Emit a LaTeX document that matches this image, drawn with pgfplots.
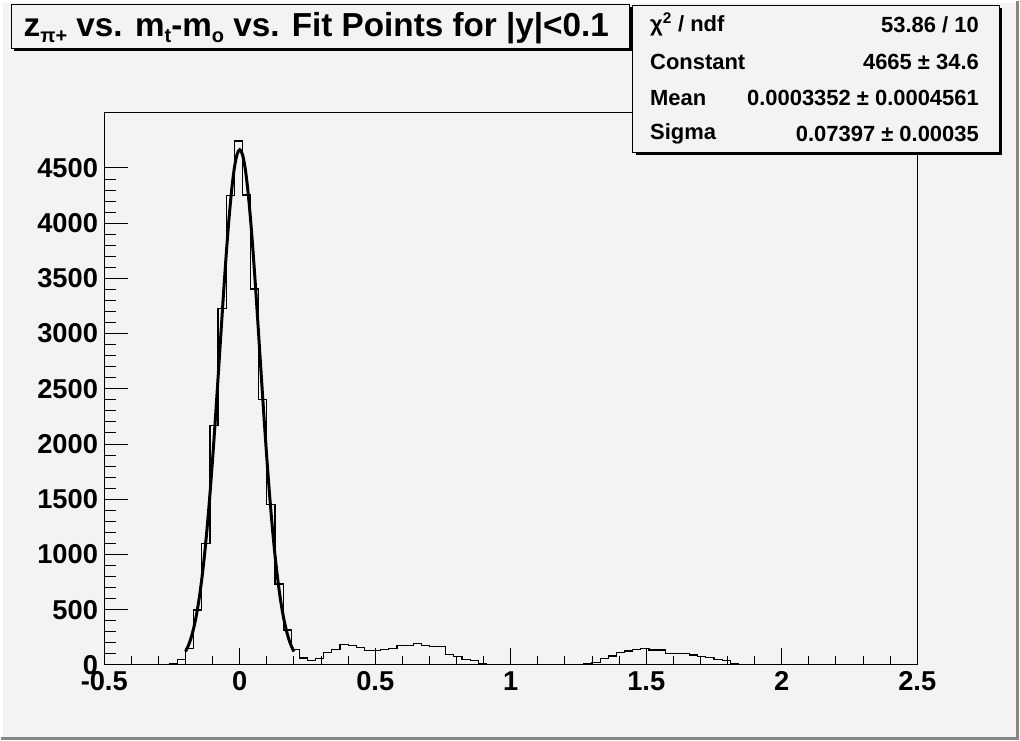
\documentclass[border=0pt]{standalone}
\usepackage{fontspec}
\setmainfont{Liberation Sans}
\usepackage{pgfplots}
\pgfplotsset{compat=1.18}
\definecolor{canvas}{RGB}{243,243,243}
\definecolor{bordr}{RGB}{135,135,135}
\begin{document}
\begin{tikzpicture}[x=0.75pt,y=0.75pt]
\fill[canvas] (0,0) rectangle (1020,740);
\draw[white, line width=1.5pt] (1,0) -- (1,739) -- (1020,739);
\draw[bordr, line width=2.25pt] (0,1.5) -- (1018.5,1.5) -- (1018.5,740);
\begin{axis}[
  at={(77.25pt,56.25pt)}, anchor=south west,
  scale only axis, width=611.25pt, height=415.5pt,
  xmin=-0.5, xmax=2.5, ymin=0, ymax=5005,
  axis background/.style={fill=canvas},
  axis line style={black, line width=0.75pt},
  xtick={-0.5,0,0.5,1,1.5,2,2.5},
  xticklabels={-0.5,0,0.5,1,1.5,2,2.5},
  ytick={0,500,1000,1500,2000,2500,3000,3500,4000,4500},
  yticklabels={0,500,1000,1500,2000,2500,3000,3500,4000,4500},
  minor x tick num=4, minor y tick num=4,
  tick align=inside, xtick pos=bottom, ytick pos=left,
  tick style={black, line width=0.75pt},
  xtick style={/pgfplots/major tick length=12.75pt, /pgfplots/minor tick length=6.75pt},
  ytick style={/pgfplots/major tick length=18pt, /pgfplots/minor tick length=9pt},
  ticklabel style={font=\fontsize{20.5}{22}\selectfont\bfseries, text=black},
  yticklabel style={anchor=east, inner sep=0pt, xshift=-4.5pt},
  xticklabel style={anchor=north, inner sep=0pt, yshift=-5pt},
  clip=false,
]
\addplot[black, line width=0.9pt, const plot mark left] coordinates {
(-0.5,0) (-0.29,2) (-0.26,8) (-0.23,45) (-0.20,151) (-0.17,497) (-0.14,1100)
(-0.11,2169) (-0.08,3229) (-0.05,4253) (-0.02,4745) (0.01,4256) (0.04,3404)
(0.07,2403) (0.10,1455) (0.13,732) (0.16,316) (0.19,140) (0.22,62) (0.25,40)
(0.28,60) (0.31,110) (0.34,142) (0.37,187) (0.40,172) (0.43,157) (0.46,127)
(0.49,128) (0.52,142) (0.55,151) (0.58,175) (0.61,175) (0.64,196) (0.67,175)
(0.70,166) (0.73,166) (0.76,96) (0.79,75) (0.82,51) (0.85,36) (0.88,15)
(0.91,6) (0.94,2) (0.97,0) (1.24,3) (1.27,8) (1.30,24) (1.33,60) (1.36,81)
(1.39,111) (1.42,126) (1.45,142) (1.48,151) (1.51,135) (1.54,135) (1.57,105)
(1.60,105) (1.63,105) (1.66,90) (1.69,75) (1.72,66) (1.75,51) (1.78,36)
(1.81,15) (1.84,5) (1.87,0) (2.5,0)
};
\addplot[black, line width=2.25pt, smooth] coordinates {
(-0.20,120.6) (-0.19,172.2) (-0.18,241.5) (-0.17,332.6) (-0.16,449.7)
(-0.15,597.0) (-0.14,778.2) (-0.13,995.7) (-0.12,1251.3) (-0.11,1544.0)
(-0.10,1870.6) (-0.09,2225.3) (-0.08,2599.3) (-0.07,2981.2) (-0.06,3357.3)
(-0.05,3712.3) (-0.04,4030.5) (-0.03,4296.7) (-0.02,4497.6) (-0.01,4622.5)
(0,4665) (0.01,4622.5) (0.02,4497.6) (0.03,4296.7) (0.04,4030.5)
(0.05,3712.3) (0.06,3357.3) (0.07,2981.2) (0.08,2599.3) (0.09,2225.3)
(0.10,1870.6) (0.11,1544.0) (0.12,1251.3) (0.13,995.7) (0.14,778.2)
(0.15,597.0) (0.16,449.7) (0.17,332.6) (0.18,241.5) (0.19,172.2) (0.20,120.6)
};
\end{axis}
% title box
\fill[black] (13,690) rectangle (633,734);
\filldraw[fill=canvas, draw=black, line width=0.75pt] (10,693) rectangle (630,737);
\node[anchor=base west, inner sep=0pt, font=\fontsize{25}{27}\selectfont\bfseries] at (22,705)
 {z\raisebox{-0.35ex}{\fontsize{15}{16}\selectfont π+} vs. m\raisebox{-0.35ex}{\fontsize{15}{16}\selectfont t}-m\raisebox{-0.35ex}{\fontsize{15}{16}\selectfont o} vs. Fit Points for |y|<0.1};
% stats box
\fill[black] (636,586) rectangle (1003,733);
\filldraw[fill=canvas, draw=black, line width=0.75pt] (633,589) rectangle (1000,736);
\begin{scope}[font=\fontsize{16.5}{18}\selectfont\bfseries]
\node[anchor=west, inner sep=0pt] at (650,717) {χ\textsuperscript{2} / ndf};
\node[anchor=east, inner sep=0pt] at (980,717) {53.86 / 10};
\node[anchor=west, inner sep=0pt] at (650,679) {Constant};
\node[anchor=east, inner sep=0pt] at (980,679) {4665 ± 34.6};
\node[anchor=west, inner sep=0pt] at (650,643) {Mean};
\node[anchor=east, inner sep=0pt] at (980,643) {0.0003352 ± 0.0004561};
\node[anchor=west, inner sep=0pt] at (650,607) {Sigma};
\node[anchor=east, inner sep=0pt] at (980,607) {0.07397 ± 0.00035};
\end{scope}
\end{tikzpicture}
\end{document}
